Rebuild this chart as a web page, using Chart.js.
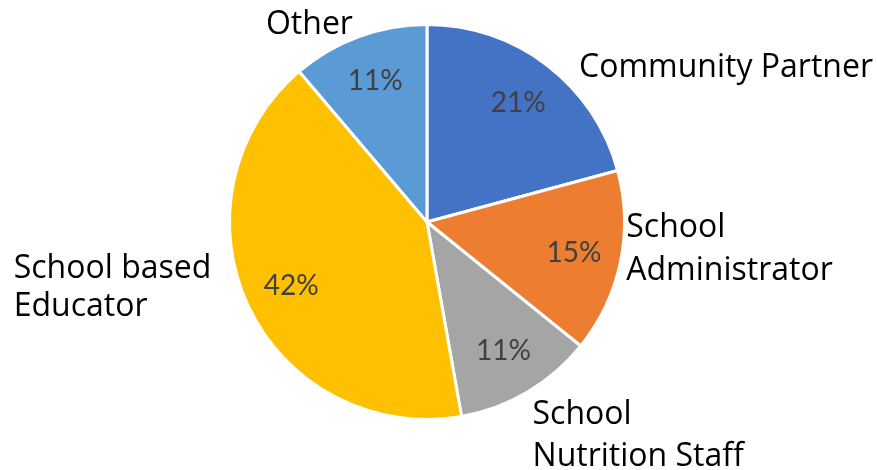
<!DOCTYPE html>
<html>
<head>
<meta charset="utf-8">
<script src="https://cdn.jsdelivr.net/npm/chart.js@4"></script>
<style>
  html, body { margin: 0; padding: 0; background: #fff; }
  #wrap { width: 877px; height: 470px; }
</style>
</head>
<body>
<div id="wrap"><canvas id="pieChart"></canvas></div>
<script>
// Datos del gráfico
const categorias = [
    ['Community Partner'],
    ['School', 'Administrator'],
    ['School', 'Nutrition Staff'],
    ['School based', 'Educator'],
    ['Other']
];
const porcentajes = [20.8, 15.0, 11.4, 41.6, 11.2];
const colores = ['#4472C4', '#ED7D31', '#A5A5A5', '#FFC000', '#5B9BD5'];

// Ajustes de posición de las etiquetas externas (desde el borde del sector)
const etiquetaAjuste = [
    { dx: 32, dy: 3, lado: 'der', alto: 43 },
    { dx: 6, dy: -13, lado: 'der', alto: 43 },
    { dx: 5, dy: 44, lado: 'der', alto: 42 },
    { dx: -37, dy: -18, lado: 'izq', alto: 38 },
    { dx: -6, dy: -12, lado: 'izq', alto: 43 }
];

// Plugin para dibujar porcentajes y nombres
const etiquetasPlugin = {
    id: 'etiquetas',
    afterDatasetsDraw(chart) {
        const ctx = chart.ctx;
        const meta = chart.getDatasetMeta(0);
        ctx.save();
        meta.data.forEach((arc, i) => {
            const mid = (arc.startAngle + arc.endAngle) / 2;
            const r = arc.outerRadius;

            // porcentaje dentro
            ctx.font = "28px 'Lato'";
            ctx.fillStyle = '#404040';
            ctx.textAlign = 'center';
            ctx.textBaseline = 'middle';
            ctx.fillText(Math.round(porcentajes[i]) + '%',
                arc.x + Math.cos(mid) * r * 0.76,
                arc.y + Math.sin(mid) * r * 0.76);

            // nombre fuera
            const aj = etiquetaAjuste[i];
            const lineas = categorias[i];
            ctx.font = "32px 'Open Sans'";
            ctx.fillStyle = '#000';
            ctx.textAlign = 'left';
            const ancho = Math.max(...lineas.map(l => ctx.measureText(l).width));
            const px = arc.x + Math.cos(mid) * r + aj.dx;
            const py = arc.y + Math.sin(mid) * r + aj.dy;
            const x0 = aj.lado === 'der' ? px : px - ancho;
            const y0 = py - (lineas.length - 1) * aj.alto / 2;
            lineas.forEach((l, j) => ctx.fillText(l, x0, y0 + j * aj.alto));
        });
        ctx.restore();
    }
};

new Chart(document.getElementById('pieChart'), {
    type: 'pie',
    data: {
        labels: categorias.map(c => c.join(' ')),
        datasets: [{
            data: porcentajes,
            backgroundColor: colores,
            borderColor: '#ffffff',
            borderWidth: 3
        }]
    },
    options: {
        responsive: true,
        maintainAspectRatio: false,
        animation: false,
        layout: {
            padding: { top: 23, bottom: 49, left: 228, right: 251 }
        },
        plugins: {
            legend: { display: false },
            tooltip: { enabled: false }
        }
    },
    plugins: [etiquetasPlugin]
});
</script>
</body>
</html>
